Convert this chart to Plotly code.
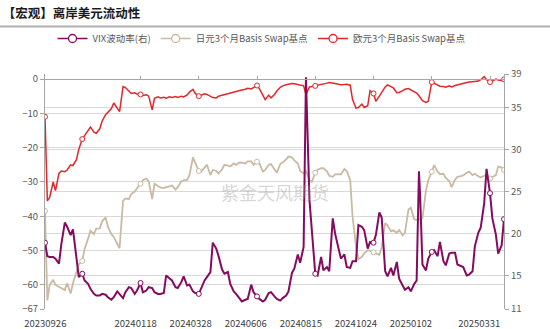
import pandas as pd
import plotly.graph_objects as go

# ---- data: sampled trading days (Mon/Thu) ----
dates = [
    "2023-09-26", "2023-09-28",
    "2023-10-02", "2023-10-05", "2023-10-09", "2023-10-12", "2023-10-16", "2023-10-19", "2023-10-23", "2023-10-26", "2023-10-30",
    "2023-11-02", "2023-11-06", "2023-11-09", "2023-11-13", "2023-11-16", "2023-11-20", "2023-11-23", "2023-11-27", "2023-11-30",
    "2023-12-04", "2023-12-07", "2023-12-11", "2023-12-14", "2023-12-18", "2023-12-21", "2023-12-25", "2023-12-28",
    "2024-01-01", "2024-01-04", "2024-01-08", "2024-01-11", "2024-01-15", "2024-01-18", "2024-01-22", "2024-01-25", "2024-01-29",
    "2024-02-01", "2024-02-05", "2024-02-08", "2024-02-12", "2024-02-15", "2024-02-19", "2024-02-22", "2024-02-26", "2024-02-29",
    "2024-03-04", "2024-03-07", "2024-03-11", "2024-03-14", "2024-03-18", "2024-03-21", "2024-03-25", "2024-03-28",
    "2024-04-01", "2024-04-04", "2024-04-08", "2024-04-11", "2024-04-15", "2024-04-18", "2024-04-22", "2024-04-25", "2024-04-29",
    "2024-05-02", "2024-05-06", "2024-05-09", "2024-05-13", "2024-05-16", "2024-05-20", "2024-05-23", "2024-05-27", "2024-05-30",
    "2024-06-03", "2024-06-06", "2024-06-10", "2024-06-13", "2024-06-17", "2024-06-20", "2024-06-24", "2024-06-27",
    "2024-07-01", "2024-07-04", "2024-07-08", "2024-07-11", "2024-07-15", "2024-07-18", "2024-07-22", "2024-07-25", "2024-07-29",
    "2024-08-01", "2024-08-05", "2024-08-08", "2024-08-12", "2024-08-15", "2024-08-19", "2024-08-22", "2024-08-26", "2024-08-29",
    "2024-09-02", "2024-09-05", "2024-09-09", "2024-09-12", "2024-09-16", "2024-09-19", "2024-09-23", "2024-09-26", "2024-09-30",
    "2024-10-03", "2024-10-07", "2024-10-10", "2024-10-14", "2024-10-17", "2024-10-21", "2024-10-24", "2024-10-28", "2024-10-31",
    "2024-11-04", "2024-11-07", "2024-11-11", "2024-11-14", "2024-11-18", "2024-11-21", "2024-11-25", "2024-11-28",
    "2024-12-02", "2024-12-05", "2024-12-09", "2024-12-12", "2024-12-16", "2024-12-18", "2024-12-19", "2024-12-23", "2024-12-26", "2024-12-30",
    "2025-01-02", "2025-01-06", "2025-01-09", "2025-01-13", "2025-01-16", "2025-01-20", "2025-01-23", "2025-01-27", "2025-01-30",
    "2025-02-03", "2025-02-06", "2025-02-10", "2025-02-13", "2025-02-17", "2025-02-20", "2025-02-24", "2025-02-27",
    "2025-03-03", "2025-03-06", "2025-03-10", "2025-03-13", "2025-03-17", "2025-03-20", "2025-03-24", "2025-03-27", "2025-03-31",
]

# VIX (right axis)
vix = [
    18.9, 17.3,
    17.2, 17.2, 17.0, 16.4, 18.7, 21.3, 20.8, 19.8, 20.5,
    16.6, 14.8, 15.2, 14.4, 14.0, 13.4, 12.8, 12.6, 12.6,
    12.8, 12.7, 12.4, 12.1, 12.4, 13.1, 12.8, 12.3,
    13.0, 13.6, 13.5, 12.8, 13.2, 14.1, 13.0, 13.2, 13.6,
    13.5, 13.0, 12.8, 12.8, 12.9, 15.0, 14.6, 14.4, 13.6,
    13.5, 14.2, 14.9, 13.8, 13.9, 13.1, 12.9, 12.8,
    13.5, 14.4, 14.8, 15.4, 18.9, 18.2, 17.3, 15.7, 15.2,
    15.4, 14.0, 13.1, 12.8, 12.2, 11.9, 12.1, 12.2, 13.9,
    13.0, 12.5, 12.2, 11.9, 12.1, 12.9, 13.0, 12.5,
    12.2, 12.0, 12.3, 12.6, 13.1, 15.3, 15.8, 17.5, 16.5,
    18.4, 38.6, 24.0, 20.4, 15.2, 15.0, 17.2, 15.6, 16.0,
    15.5, 21.8, 20.0, 18.0, 17.0, 17.5, 16.0, 15.9, 16.7,
    16.7, 21.0, 20.8, 20.4, 18.2, 19.0, 18.9, 19.8, 22.5,
    21.9, 15.5, 14.9, 15.9, 15.0, 16.6, 14.6, 13.8,
    13.3, 13.6, 13.1, 14.0, 14.4, 27.4, 24.5, 16.3, 15.6, 17.0,
    17.8, 18.0, 17.3, 19.0, 16.7, 16.2, 17.6, 17.7, 17.7,
    16.3, 16.1, 16.0, 15.0, 15.1, 15.5, 18.5, 20.1,
    20.7, 23.6, 27.7, 24.8, 21.8, 19.9, 17.6, 18.6, 21.7,
]

# JPY 3M basis swap, bp (left axis)
jpy_basis = [
    -38.4, -64.5,
    -60.0, -58.5, -60.0, -60.5, -61.0, -61.5, -59.5, -62.5, -59.5,
    -56.5, -54.0, -53.0, -49.5, -46.5, -44.2, -45.2, -43.6, -43.5,
    -41.5, -40.3, -43.0, -45.2, -46.0, -48.0, -49.3, -35.5,
    -34.8, -35.0, -33.5, -32.8, -31.8, -30.5, -29.5, -29.0, -29.8,
    -35.0, -30.5, -31.2, -31.6, -31.8, -31.5, -31.3, -31.0, -32.2,
    -31.5, -29.8, -29.5, -29.4, -28.0, -22.8, -24.5, -26.8,
    -27.0, -25.7, -25.0, -28.0, -26.5, -26.8, -27.5, -26.3, -25.0,
    -25.2, -25.5, -24.6, -25.0, -24.3, -24.5, -24.6, -24.0, -24.0,
    -25.0, -24.1, -24.5, -27.0, -26.5, -25.0, -24.8, -26.4,
    -27.3, -24.7, -24.3, -23.4, -22.6, -22.8, -23.7, -24.6, -26.8,
    -27.5, -26.8, -29.5, -30.0, -27.3, -26.4, -26.0, -26.0, -26.9,
    -28.2, -28.5, -27.8, -27.7, -27.8, -26.2, -26.8, -29.5, -40.0,
    -49.0, -52.5, -51.8, -50.8, -49.9, -50.0, -50.5, -50.8, -51.2,
    -49.0, -42.0, -42.6, -44.4, -44.1, -44.8, -44.0, -45.6,
    -44.7, -38.0, -37.5, -40.9, -41.0, -40.9, -40.8, -40.6, -32.5, -29.5,
    -27.0, -25.1, -27.0, -27.7, -27.6, -28.8, -29.7, -31.5, -29.3,
    -28.5, -28.3, -28.1, -27.3, -27.0, -28.0, -27.6, -28.3,
    -28.7, -28.2, -27.8, -29.0, -28.5, -28.0, -25.5, -25.8, -26.5,
]

# EUR 3M basis swap, bp (left axis)
eur_basis = [
    -11.0, -35.5,
    -34.5, -30.0, -32.5, -27.5, -26.8, -27.0, -26.5, -25.0, -25.2,
    -23.5, -20.5, -17.5, -16.5, -15.0, -14.0, -15.5, -15.8, -14.5,
    -12.3, -10.4, -9.6, -8.6, -7.0, -8.5, -9.5, -2.2,
    -2.5, -3.5, -4.2, -4.0, -4.4, -4.5, -4.8, -4.6, -5.0,
    -9.0, -5.6, -5.2, -5.5, -5.3, -5.6, -5.2, -5.4, -5.1,
    -5.4, -5.0, -5.2, -4.6, -3.8, -3.0, -4.2, -5.0,
    -4.8, -4.3, -4.5, -5.2, -5.4, -5.5, -5.0, -4.7, -4.5,
    -4.2, -4.0, -3.8, -3.6, -3.4, -3.2, -3.0, -2.7, -2.9,
    -2.5, -1.9, -2.8, -4.5, -6.0, -4.7, -5.5, -4.5,
    -3.5, -2.4, -2.0, -1.7, -1.5, -1.3, -1.4, -1.6, -1.8,
    -2.0, -4.5, -2.3, -2.2, -2.0, -1.9, -1.7, -1.6, -1.2,
    -1.0, -1.1, -1.3, -1.5, -1.7, -1.6, -1.5, -1.8, -6.0,
    -8.5, -8.3, -7.3, -8.3, -7.8, -3.4, -4.2, -6.5, -5.0,
    -3.8, -2.3, -1.7, -2.2, -2.6, -4.0, -3.9, -3.4,
    -3.0, -2.8, -3.2, -3.7, -4.1, -4.9, -5.4, -6.3, -6.8, -6.5,
    -0.9, -1.2, -1.7, -2.1, -2.2, -2.4, -2.0, -2.3, -1.9,
    -1.7, -1.4, -1.3, -1.1, -0.9, -0.8, -0.7, -0.6,
    -0.2, 0.7, -0.2, -0.9, -0.6, 0.0, -0.3, -0.4, -0.1,
]

# dates that carry a hollow point marker
marker_dates = ["2023-09-26", "2023-11-09", "2024-01-18", "2024-03-28", "2024-06-06",
                "2024-08-15", "2024-10-24", "2025-01-02", "2025-03-13", "2025-03-31"]
# small ticks on the zero line
zero_tick_dates = ["2024-01-18", "2024-03-28", "2024-06-06", "2024-08-15",
                   "2024-10-24", "2025-01-02", "2025-03-13"]
# date labels under the plot
tick_dates = ["2023-09-26", "2024-01-18", "2024-03-28", "2024-06-06",
              "2024-08-15", "2024-10-24", "2025-01-02", "2025-03-31"]
tick_labels = [d.replace("-", "") for d in tick_dates]

left_ticks = [-67, -60, -50, -40, -30, -20, -10, 0]
right_ticks = [11, 15, 20, 25, 30, 35, 39]

# ---- styling ----
PURPLE = "#850b5f"
BEIGE = "#c9baa3"
RED = "#e2262a"
AXIS = "#a6a6a6"
GRID = "#d9d9d9"
FONT = "Noto Sans CJK SC"

series = [
    ("日元3个月Basis Swap基点", jpy_basis, BEIGE, 1.8, "y", 2),
    ("欧元3个月Basis Swap基点", eur_basis, RED, 1.5, "y", 3),
    ("VIX波动率(右)", vix, PURPLE, 2.0, "y2", 1),
]

fig = go.Figure()
for name, vals, color, width, yax, rank in series:
    fig.add_trace(go.Scatter(
        x=dates, y=vals, mode="lines", line=dict(color=color, width=width),
        yaxis=yax, showlegend=False, hoverinfo="skip"))
    lookup = dict(zip(dates, vals))
    fig.add_trace(go.Scatter(
        x=marker_dates, y=[lookup[d] for d in marker_dates], mode="markers",
        marker=dict(symbol="circle", size=5, color="white", line=dict(color=color, width=1)),
        yaxis=yax, showlegend=False, hoverinfo="skip"))

# legend entries
for name, vals, color, width, yax, rank in series:
    fig.add_trace(go.Scatter(
        x=[None], y=[None], mode="lines+markers", name=name, legendrank=rank,
        line=dict(color=color, width=1.5),
        marker=dict(symbol="circle", size=8, color="white", line=dict(color=color, width=1.3)),
        xaxis="x2", yaxis="y"))

# label axis: weekday index of each labelled date
all_days = pd.bdate_range(dates[0], dates[-1])
label_pos = [int(all_days.get_loc(pd.Timestamp(d))) for d in tick_dates]

y_lo, y_hi = -67, 1.46
fig.update_layout(
    width=550, height=329,
    margin=dict(l=45, r=46, t=74, b=20, autoexpand=False),
    paper_bgcolor="white", plot_bgcolor="white",
    font=dict(family=FONT, size=9.5, color="#595959"),
    title=dict(text="【宏观】离岸美元流动性", x=0.005, xanchor="left",
               y=1 - 14 / 329, yanchor="middle", xref="container", yref="container",
               font=dict(family=FONT, size=12.5, color="#1a1a1a", weight="bold")),
    legend=dict(orientation="h", x=0.4717, xanchor="center", y=1.151, yanchor="middle",
                font=dict(family=FONT, size=9.5, color="#595959"),
                bgcolor="rgba(0,0,0,0)", itemwidth=30, traceorder="normal"),
    xaxis=dict(type="date", range=[dates[0], dates[-1]], automargin=False,
               rangebreaks=[dict(bounds=["sat", "mon"])],
               anchor="free", position=(0 - y_lo) / (y_hi - y_lo), side="top",
               showline=True, linecolor=AXIS, linewidth=1,
               ticks="outside", ticklen=3, tickcolor=AXIS,
               tickmode="array", tickvals=zero_tick_dates, showticklabels=False,
               showgrid=False, zeroline=False),
    xaxis2=dict(overlaying="x", anchor="y", side="bottom", type="linear", automargin=False,
                range=[-0.3, 416.5], tickmode="array", tickvals=label_pos, ticktext=tick_labels,
                showline=False, showgrid=False, zeroline=False, ticks="",
                ticklabelstandoff=7,
                tickfont=dict(family=FONT, size=9.5, color="#404040")),
    yaxis=dict(range=[y_lo, y_hi], tickmode="array", tickvals=left_ticks, automargin=False,
               showgrid=False, zeroline=False, showline=True, linecolor=AXIS,
               ticks="outside", ticklen=4, tickcolor=AXIS,
               tickfont=dict(family=FONT, size=9.5, color="#595959"),
               minor=dict(tickmode="array", tickvals=[-60, -50, -40, -30, -20, -10],
                          showgrid=True, gridcolor=GRID, gridwidth=1, ticks="")),
    yaxis2=dict(overlaying="y", side="right", range=[11, 39], tickmode="array", automargin=False,
                tickvals=right_ticks, showgrid=False, zeroline=False,
                showline=True, linecolor=AXIS, ticks="outside", ticklen=4, tickcolor=AXIS,
                tickfont=dict(family=FONT, size=9.5, color="#595959"),
                minor=dict(tickmode="array", tickvals=[15, 20, 25, 30, 35],
                           showgrid=True, gridcolor=GRID, gridwidth=1, ticks="")),
    shapes=[dict(type="line", xref="paper", yref="paper",
                 x0=-45 / 459, x1=505 / 459, y0=(309 - 26.5) / 235, y1=(309 - 26.5) / 235,
                 line=dict(color="#b0b0b0", width=2))],
    annotations=[dict(text="紫金天风期货", x=0.5, y=0.5, xref="paper", yref="paper",
                      showarrow=False, font=dict(family=FONT, size=18, color="rgba(150,150,150,0.4)"))],
)

fig.write_html("out.html")
